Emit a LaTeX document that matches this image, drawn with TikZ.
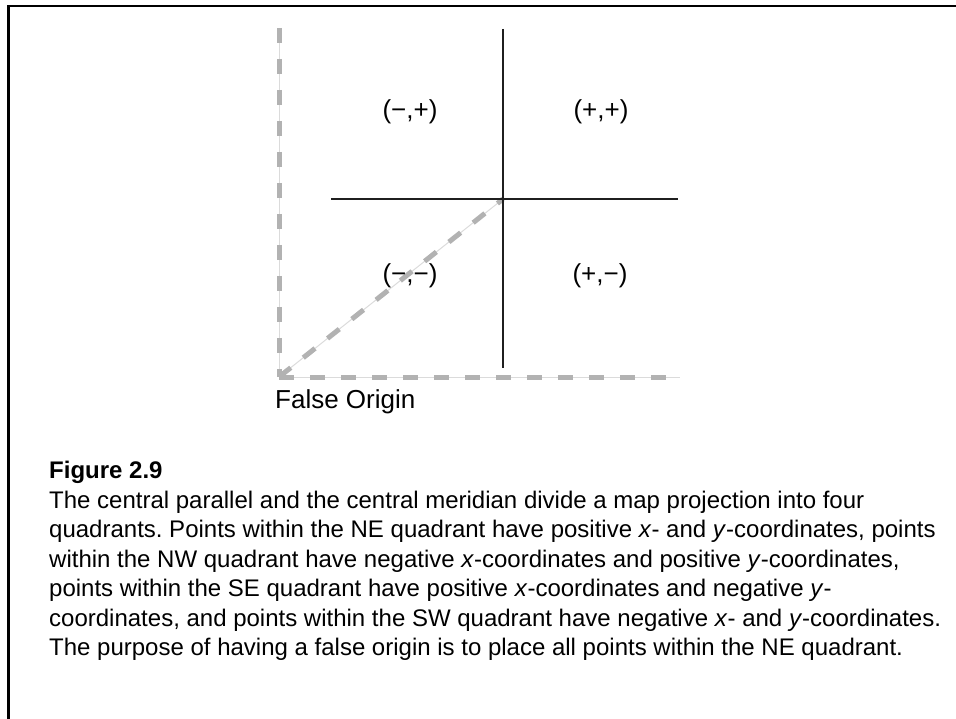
\documentclass[tikz,border=0pt]{standalone}
\usepackage{fontspec}
\setmainfont{Liberation Sans}
\frenchspacing
\begin{document}
\begin{tikzpicture}[x=1pt,y=-1pt,
  frameline/.style={line width=2.8pt,black},
  axisline/.style={line width=2.3pt,black!88},
  guideline/.style={line width=1pt,black!14},
  falsedash/.style={line width=5pt,black!30,dash pattern=on 15pt off 16pt},
  quad/.style={font=\fontsize{26}{30}\selectfont,inner sep=0pt,anchor=center},
  fotext/.style={font=\fontsize{26}{30}\selectfont,inner sep=0pt,anchor=base west},
  capline/.style={font=\fontsize{24}{29}\selectfont,inner sep=0pt,anchor=base west},
  ]
\useasboundingbox (0,0) rectangle (956,719);
% frame
\draw[frameline] (8.7,719) -- (8.7,6) -- (956,6);
% coordinates
\coordinate (fo) at (279,377);
\coordinate (ytop) at (279,28);
\coordinate (xend) at (680,377);
\coordinate (ctr) at (503,199);
\coordinate (mtop) at (503,29);
\coordinate (mbot) at (503,368);
\coordinate (pleft) at (331,199);
\coordinate (pright) at (678,199);
% false origin guides
\draw[guideline] (ytop) -- (fo) -- (xend);
\draw[guideline] (fo) -- (ctr);
\draw[falsedash] (ytop) -- (fo);
\draw[falsedash] (fo) -- (xend);
\draw[falsedash] (fo) -- (ctr);
% central meridian and parallel
\draw[axisline] (mtop) -- (mbot);
\draw[axisline] (pleft) -- (pright);
% quadrant labels
\node[quad] (nw) at (410,111.5) {(−,+)};
\node[quad] (ne) at (601,111.5) {(+,+)};
\node[quad] (sw) at (410,275.5) {(−,−)};
\node[quad] (se) at (600,275.5) {(+,−)};
\node[fotext] (folab) at (275,408) {False Origin};
% caption
\node[capline,font=\bfseries\fontsize{24}{29}\selectfont] (figno) at (49,478) {Figure 2.9};
\node[capline] (c1) at (49,508) {The central parallel and the central meridian divide a map projection into four};
\node[capline] (c2) at (49,537.5) {quadrants. Points within the NE quadrant have positive \textit{x}- and \textit{y}-coordinates, points};
\node[capline] (c3) at (49,567) {within the NW quadrant have negative \textit{x}-coordinates and positive \textit{y}-coordinates,};
\node[capline] (c4) at (49,596.5) {points within the SE quadrant have positive \textit{x}-coordinates and negative \textit{y}-};
\node[capline] (c5) at (49,626) {coordinates, and points within the SW quadrant have negative \textit{x}- and \textit{y}-coordinates.};
\node[capline] (c6) at (49,655.5) {The purpose of having a false origin is to place all points within the NE quadrant.};
\end{tikzpicture}
\end{document}
